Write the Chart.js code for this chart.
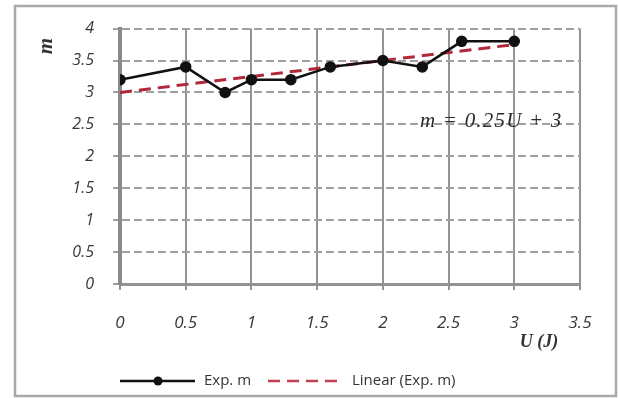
<!DOCTYPE html>
<html>
<head>
<meta charset="utf-8">
<script src="https://cdn.jsdelivr.net/npm/chart.js@4"></script>
<style>
  html, body { margin: 0; padding: 0; background: #ffffff; }
  #c { display: block; }
</style>
</head>
<body>
<canvas id="c" width="619" height="398"></canvas>
<script>
// Measured energy U (J) and the corresponding m values
const uValues = [0, 0.5, 0.8, 1.0, 1.3, 1.6, 2.0, 2.3, 2.6, 3.0];
const mValues = [3.2, 3.4, 3.0, 3.2, 3.2, 3.4, 3.5, 3.4, 3.8, 3.8];

// Linear trendline m = 0.25U + 3, spanning the measured range
const trendU = [0, 3];
const trendM = [3.0, 3.75];

// Axis ranges and tick steps
const xRange = [0, 3.5];
const yRange = [0, 4];
const tickStep = 0.5;

const seriesName = 'Exp. m';
const trendName = 'Linear (Exp. m)';
const equationText = 'm = 0.25U + 3';
const xTitle = 'U (J)';
const yTitle = 'm';

const GRID = '#939393';
const TREND_RED = '#b0283a';

const toPoints = (xs, ys) => xs.map((x, i) => ({ x: x, y: ys[i] }));

// Outer frame, axis titles, equation and the bottom legend
const decorations = {
  id: 'decorations',
  beforeDraw(chart) {
    const ctx = chart.ctx;
    ctx.save();
    ctx.fillStyle = '#ffffff';
    ctx.fillRect(0, 0, chart.width, chart.height);
    ctx.restore();
  },
  afterDraw(chart) {
    const ctx = chart.ctx;
    ctx.save();
    // frame
    ctx.strokeStyle = '#a9a9a9';
    ctx.lineWidth = 2.5;
    ctx.strokeRect(15, 6, 601, 390);

    // y title
    ctx.fillStyle = '#333333';
    ctx.font = 'italic bold 21px "Liberation Serif"';
    ctx.textAlign = 'center';
    ctx.textBaseline = 'middle';
    ctx.save();
    ctx.translate(47, 46);
    ctx.rotate(-Math.PI / 2);
    ctx.fillText(yTitle, 0, 0);
    ctx.restore();

    // x title
    ctx.font = 'italic bold 18px "Liberation Serif"';
    ctx.fillText(xTitle, 539, 342);

    // equation
    ctx.fillStyle = '#2a2a2a';
    ctx.font = 'italic 21px "Liberation Serif"';
    ctx.textAlign = 'left';
    ctx.textBaseline = 'alphabetic';
    if ('letterSpacing' in ctx) ctx.letterSpacing = '1.2px';
    ctx.fillText(equationText, 420, 127);
    if ('letterSpacing' in ctx) ctx.letterSpacing = '0px';

    // legend
    const ly = 381;
    ctx.strokeStyle = '#111111';
    ctx.lineWidth = 2.5;
    ctx.setLineDash([]);
    ctx.beginPath();
    ctx.moveTo(120, ly);
    ctx.lineTo(195, ly);
    ctx.stroke();
    ctx.fillStyle = '#111111';
    ctx.beginPath();
    ctx.arc(158, ly, 4.5, 0, Math.PI * 2);
    ctx.fill();

    ctx.strokeStyle = '#c0404f';
    ctx.lineWidth = 2.5;
    ctx.setLineDash([12, 7]);
    ctx.beginPath();
    ctx.moveTo(268, ly);
    ctx.lineTo(338, ly);
    ctx.stroke();
    ctx.setLineDash([]);

    ctx.fillStyle = '#333333';
    ctx.font = '15px "Open Sans"';
    ctx.textBaseline = 'middle';
    ctx.fillText(seriesName, 204, ly);
    ctx.fillText(trendName, 352, ly);
    ctx.restore();
  }
};

new Chart(document.getElementById('c'), {
  type: 'scatter',
  data: {
    datasets: [
      {
        label: trendName,
        data: toPoints(trendU, trendM),
        showLine: true,
        borderColor: TREND_RED,
        borderWidth: 3,
        borderDash: [12, 7],
        pointRadius: 0,
        fill: false,
        order: 2
      },
      {
        label: seriesName,
        data: toPoints(uValues, mValues),
        showLine: true,
        borderColor: '#111111',
        backgroundColor: '#111111',
        borderWidth: 2.5,
        pointRadius: 4.5,
        pointBackgroundColor: '#111111',
        pointBorderColor: '#111111',
        fill: false,
        order: 1
      }
    ]
  },
  options: {
    responsive: false,
    animation: false,
    devicePixelRatio: 1,
    layout: { padding: { left: 60, right: 39, top: 26, bottom: 0 } },
    plugins: {
      legend: { display: false },
      tooltip: { enabled: false }
    },
    scales: {
      x: {
        type: 'linear',
        min: xRange[0],
        max: xRange[1],
        ticks: {
          stepSize: tickStep,
          font: { family: '"Open Sans"', style: 'italic', size: 17 },
          color: '#383838',
          padding: 23,
          maxRotation: 0,
          callback: v => String(v)
        },
        grid: { color: GRID, lineWidth: 2, tickLength: 6 },
        border: { color: GRID, width: 3 },
        afterFit: s => { s.height = 114; }
      },
      y: {
        min: yRange[0],
        max: yRange[1],
        ticks: {
          stepSize: tickStep,
          font: { family: '"Open Sans"', style: 'italic', size: 16 },
          color: '#383838',
          padding: 19,
          callback: v => String(v)
        },
        grid: { color: '#a0a0a0', lineWidth: 2, tickLength: 7 },
        border: { color: '#8a8a8a', width: 4, dash: [8, 4] },
        afterFit: s => { s.width = 60; }
      }
    }
  },
  plugins: [decorations]
});
</script>
</body>
</html>
